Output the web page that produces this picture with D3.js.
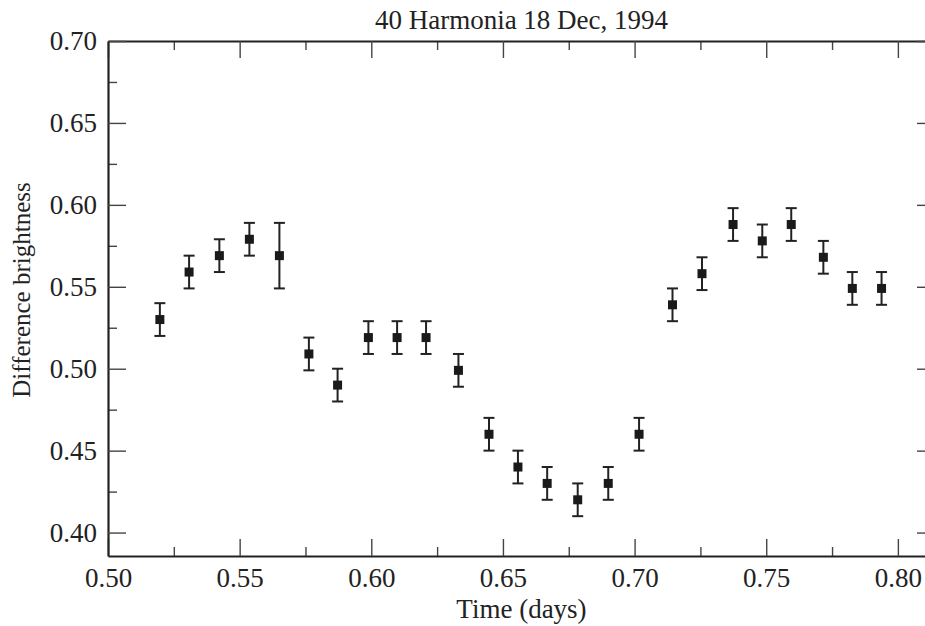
<!DOCTYPE html>
<html>
<head>
<meta charset="utf-8">
<script src="https://cdn.jsdelivr.net/npm/d3@7"></script>
<style>
  html, body { margin: 0; padding: 0; background: #fff; }
  svg { display: block; }
  text { font-family: "Liberation Serif", "Times New Roman", Times, serif; fill: #222; }
</style>
</head>
<body>
<svg id="chart" width="925" height="626"></svg>
<script>
// ---- data ----
const times = [0.5197, 0.5308, 0.5423, 0.5537, 0.5651, 0.5763, 0.5872, 0.5989, 0.6098, 0.6208,
               0.6331, 0.6447, 0.6557, 0.6668, 0.6784, 0.6900, 0.7017, 0.7144, 0.7256, 0.7374,
               0.7485, 0.7595, 0.7717, 0.7827, 0.7938];
const brightness = [0.530, 0.559, 0.569, 0.579, 0.569, 0.509, 0.490, 0.519, 0.519, 0.519,
                    0.499, 0.460, 0.440, 0.430, 0.420, 0.430, 0.460, 0.539, 0.558, 0.588,
                    0.578, 0.588, 0.568, 0.549, 0.549];
const errors = [0.010, 0.010, 0.010, 0.010, 0.020, 0.010, 0.010, 0.010, 0.010, 0.010,
                0.010, 0.010, 0.010, 0.010, 0.010, 0.010, 0.010, 0.010, 0.010, 0.010,
                0.010, 0.010, 0.010, 0.010, 0.010];
const xTicks = [0.50, 0.55, 0.60, 0.65, 0.70, 0.75, 0.80];
const xMinorTicks = [0.525, 0.575, 0.625, 0.675, 0.725, 0.775];
const yTicks = [0.40, 0.45, 0.50, 0.55, 0.60, 0.65, 0.70];
const yMinorTicks = [0.425, 0.475, 0.525, 0.575, 0.625, 0.675];
const titleText = "40 Harmonia 18 Dec, 1994";
const xLabel = "Time (days)";
const yLabel = "Difference brightness";

// ---- layout ----
const pL = 108, pR = 935, pT = 41, pB = 556;
const svg = d3.select("#chart");
const x = d3.scaleLinear().domain([0.5, 0.8141]).range([pL, pR]);
const y = d3.scaleLinear().domain([0.3857, 0.70]).range([pB, pT]);
const fmt = d3.format(".2f");

const ink = "#222";
const FS = 27;

function styleAxis(g, showLabels) {
  g.attr("font-family", null);
  g.select(".domain").attr("stroke", ink).attr("stroke-width", 2.2);
  g.selectAll(".tick line").attr("stroke", "#444").attr("stroke-width", 1.4);
  g.selectAll(".tick text").attr("font-size", FS).attr("fill", ink);
  if (!showLabels) g.selectAll(".tick text").remove();
}

// minor ticks
svg.append("g").attr("transform", `translate(0,${pB})`)
  .call(d3.axisBottom(x).tickValues(xMinorTicks).tickSizeInner(-9).tickSizeOuter(0).tickFormat(""))
  .call(g => { styleAxis(g, false); g.select(".domain").remove(); });
svg.append("g").attr("transform", `translate(0,${pT})`)
  .call(d3.axisTop(x).tickValues(xMinorTicks).tickSizeInner(-9).tickSizeOuter(0).tickFormat(""))
  .call(g => { styleAxis(g, false); g.select(".domain").remove(); });
svg.append("g").attr("transform", `translate(${pL},0)`)
  .call(d3.axisLeft(y).tickValues(yMinorTicks).tickSizeInner(-9).tickSizeOuter(0).tickFormat(""))
  .call(g => { styleAxis(g, false); g.select(".domain").remove(); });
svg.append("g").attr("transform", `translate(${pR},0)`)
  .call(d3.axisRight(y).tickValues(yMinorTicks).tickSizeInner(-9).tickSizeOuter(0).tickFormat(""))
  .call(g => { styleAxis(g, false); g.select(".domain").remove(); });

// major axes
svg.append("g").attr("transform", `translate(0,${pB})`)
  .call(d3.axisBottom(x).tickValues(xTicks).tickSizeInner(-17).tickSizeOuter(0).tickPadding(12).tickFormat(fmt))
  .call(g => styleAxis(g, true));
svg.append("g").attr("transform", `translate(0,${pT})`)
  .call(d3.axisTop(x).tickValues(xTicks).tickSizeInner(-17).tickSizeOuter(0))
  .call(g => styleAxis(g, false));
svg.append("g").attr("transform", `translate(${pL},0)`)
  .call(d3.axisLeft(y).tickValues(yTicks).tickSizeInner(-18).tickSizeOuter(0).tickPadding(11).tickFormat(fmt))
  .call(g => styleAxis(g, true));
svg.append("g").attr("transform", `translate(${pR},0)`)
  .call(d3.axisRight(y).tickValues(yTicks).tickSizeInner(-18).tickSizeOuter(0))
  .call(g => styleAxis(g, false));

// ---- data marks ----
const data = times.map((t, i) => ({ t, v: brightness[i], e: errors[i] }));
const cap = 5.5, sq = 9;
const pts = svg.append("g").selectAll("g").data(data).join("g");
pts.append("line")
  .attr("x1", d => x(d.t)).attr("x2", d => x(d.t))
  .attr("y1", d => y(d.v + d.e)).attr("y2", d => y(d.v - d.e))
  .attr("stroke", ink).attr("stroke-width", 2);
pts.append("line")
  .attr("x1", d => x(d.t) - cap).attr("x2", d => x(d.t) + cap)
  .attr("y1", d => y(d.v + d.e)).attr("y2", d => y(d.v + d.e))
  .attr("stroke", ink).attr("stroke-width", 2);
pts.append("line")
  .attr("x1", d => x(d.t) - cap).attr("x2", d => x(d.t) + cap)
  .attr("y1", d => y(d.v - d.e)).attr("y2", d => y(d.v - d.e))
  .attr("stroke", ink).attr("stroke-width", 2);
pts.append("rect")
  .attr("x", d => x(d.t) - sq / 2).attr("y", d => y(d.v) - sq / 2)
  .attr("width", sq).attr("height", sq)
  .attr("fill", "#1a1a1a");

// ---- text ----
svg.append("text").attr("x", (pL + pR) / 2).attr("y", 29)
  .attr("text-anchor", "middle").attr("font-size", FS).text(titleText);
svg.append("text").attr("x", (pL + pR) / 2).attr("y", 618)
  .attr("text-anchor", "middle").attr("font-size", FS).text(xLabel);
svg.append("text").attr("transform", `translate(30,290) rotate(-90)`)
  .attr("text-anchor", "middle").attr("font-size", 25).text(yLabel);
</script>
</body>
</html>
